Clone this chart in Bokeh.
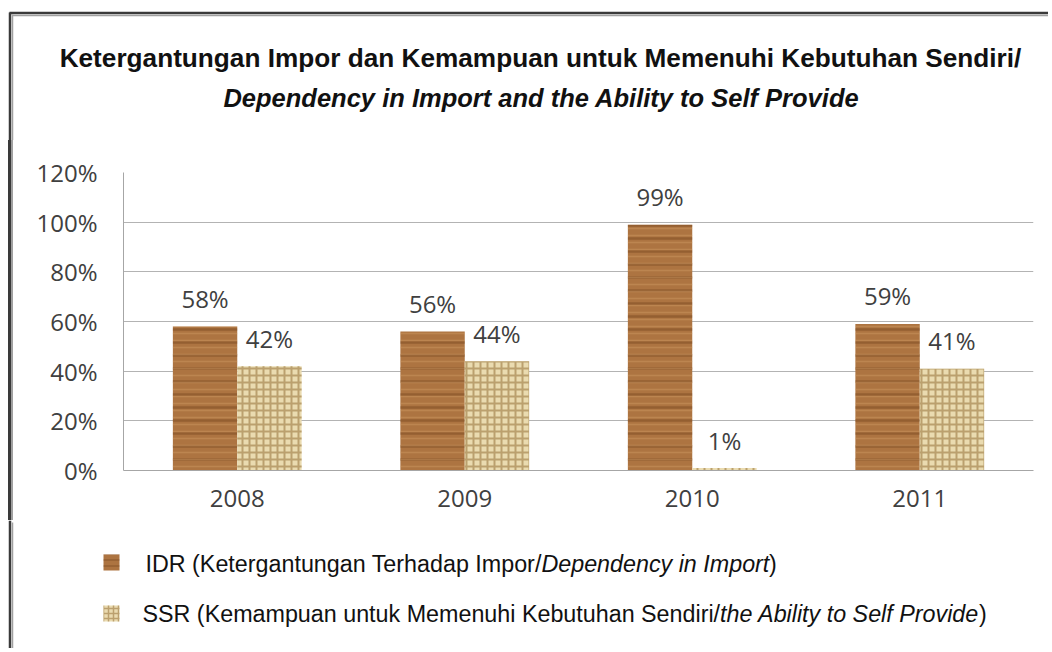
from bokeh.plotting import figure
from bokeh.layouts import column, row
from bokeh.models import (ColumnDataSource, FactorRange, Range1d, LabelSet,
                          PrintfTickFormatter, FixedTicker, Div)
from bokeh.core.properties import value
from bokeh.transform import dodge
from bokeh.embed import file_html
from bokeh.resources import INLINE

# ---- data ----
years = ["2008", "2009", "2010", "2011"]
idr = [58, 56, 99, 59]   # IDR (%)
ssr = [42, 44, 1, 41]    # SSR (%)
y_ticks = [0, 20, 40, 60, 80, 100, 120]

title1 = "Ketergantungan Impor dan Kemampuan untuk Memenuhi Kebutuhan Sendiri/"
title2 = "Dependency in Import and the Ability to Self Provide"
leg1 = ["IDR (Ketergantungan Terhadap Impor/", "Dependency in Import", ")"]
leg2 = ["SSR (Kemampuan untuk Memenuhi Kebutuhan Sendiri/", "the Ability to Self Provide", ")"]

W = 1048
WOOD = "#ad7441"
WOOD_GRAIN = "#6e3f18"
BURLAP = "#eadbb0"
BURLAP_WEAVE = "#a68853"
TXT_FONT = value("Liberation Sans")
NUM_FONT = "Open Sans"
BORDER_DARK = "#3a3a3a"
BORDER_LIGHT = "#a0a0a0"


def blank(w, h, y0, y1):
    """figure whose frame fills the canvas; data units == page pixels"""
    f = figure(width=w, height=h, x_range=Range1d(0, w), y_range=Range1d(y1, y0),
               output_backend="svg", toolbar_location=None,
               x_axis_location=None, y_axis_location=None,
               min_border=0, min_border_left=0, min_border_right=0,
               min_border_top=0, min_border_bottom=0)
    f.xgrid.visible = False
    f.ygrid.visible = False
    f.outline_line_color = None
    f.background_fill_color = "white"
    f.border_fill_color = "white"
    return f


def left_border(f, y0, y1):
    f.segment(x0=[9.5], y0=[y0], x1=[9.5], y1=[y1], line_color=BORDER_DARK, line_width=2.5)
    f.segment(x0=[12], y0=[y0 + 2], x1=[12], y1=[y1], line_color=BORDER_LIGHT, line_width=1.5)


# ---------------- title block (page y 0..140) ----------------
t = blank(W, 140, 0, 140)
t.segment(x0=[9], y0=[12.5], x1=[W], y1=[12.5], line_color=BORDER_DARK, line_width=2.5)
t.segment(x0=[12], y0=[15], x1=[W], y1=[15], line_color=BORDER_LIGHT, line_width=1.5)
left_border(t, 12, 140)
t.text(x=[540], y=[57], text=[title1], text_align="center", text_baseline="middle",
       text_font=TXT_FONT, text_font_size=value("26.2px"), text_font_style="bold",
       text_color="#111111")
t.text(x=[541], y=[97], text=[title2], text_align="center", text_baseline="middle",
       text_font=TXT_FONT, text_font_size=value("25.5px"), text_font_style="bold italic",
       text_color="#111111")

# ---------------- main chart (page y 140..520) ----------------
strip = Div(text="", width=14, height=380, margin=0,
            styles={"background": "linear-gradient(to right, #ffffff 8px, #3a3a3a 8px, "
                                  "#3a3a3a 11px, #ffffff 11px, #ffffff 11.5px, #a0a0a0 11.5px, "
                                  "#a0a0a0 13px, #ffffff 13px)"})

src = ColumnDataSource(dict(
    year=years, idr=idr, ssr=ssr,
    idr_lbl=[f"{v}%" for v in idr], ssr_lbl=[f"{v}%" for v in ssr]))

p = figure(x_range=FactorRange(*years), y_range=Range1d(0, 120),
           width=W - 14, height=380, output_backend="svg", toolbar_location=None,
           min_border_left=109, min_border_right=15, min_border_top=32,
           min_border_bottom=50)
p.outline_line_color = None
p.background_fill_color = "white"
p.border_fill_color = "white"

bw = 0.283
xi = dodge("year", -bw / 2, range=p.x_range)
xs = dodge("year", bw / 2, range=p.x_range)
p.vbar(x=xi, top="idr", width=bw, source=src, fill_color=WOOD, line_color=None,
       hatch_pattern="horizontal_line", hatch_color=WOOD_GRAIN, hatch_scale=13,
       hatch_weight=2.5, hatch_alpha=0.4)
p.vbar(x=xi, top="idr", width=bw, source=src, fill_alpha=0, line_color=None,
       hatch_pattern="horizontal_line", hatch_color="#d8a36c", hatch_scale=7,
       hatch_weight=1.5, hatch_alpha=0.35)
p.vbar(x=xs, top="ssr", width=bw, source=src, fill_color=BURLAP, line_color=None,
       hatch_pattern="cross", hatch_color=BURLAP_WEAVE, hatch_scale=7,
       hatch_weight=2, hatch_alpha=0.7)

for field, txt, xx in (("idr", "idr_lbl", xi), ("ssr", "ssr_lbl", xs)):
    p.add_layout(LabelSet(x=xx, y=field, text=txt, source=src, y_offset=28,
                          text_align="center", text_baseline="middle",
                          text_font=value(NUM_FONT), text_font_size=value("24px"),
                          text_color="#404040"))

p.yaxis.ticker = FixedTicker(ticks=y_ticks)
p.yaxis.formatter = PrintfTickFormatter(format="%d%%")
p.xgrid.visible = False
p.ygrid.grid_line_color = "#b3b3b3"
p.ygrid.grid_line_width = 1
for ax in (p.xaxis, p.yaxis):
    ax.axis_line_color = "#a6a6a6"
    ax.major_tick_line_color = None
    ax.minor_tick_line_color = None
    ax.major_tick_in = 0
    ax.major_tick_out = 0
    ax.major_label_text_font = NUM_FONT
    ax.major_label_text_font_size = "24px"
    ax.major_label_text_color = "#404040"
p.yaxis.major_label_standoff = 26
p.xaxis.major_label_standoff = 19

# ---------------- legend block (page y 520..648) ----------------
lg = blank(W, 128, 520, 648)
left_border(lg, 520, 648)
lg.rect(x=[111], y=[562], width=16, height=16, fill_color=WOOD, line_color=None,
        hatch_pattern="horizontal_line", hatch_color=WOOD_GRAIN, hatch_scale=6,
        hatch_weight=1.5, hatch_alpha=0.4)
lg.rect(x=[111], y=[613], width=16, height=16, fill_color=BURLAP, line_color=None,
        hatch_pattern="cross", hatch_color=BURLAP_WEAVE, hatch_scale=5,
        hatch_weight=1.5, hatch_alpha=0.7)
for parts, y, xs_ in ((leg1, 563, (145, 540.9, 768.6)),
                      (leg2, 613, (142, 719.6, 978.6))):
    for txt, x, style in zip(parts, xs_, ("normal", "italic", "normal")):
        lg.text(x=[x], y=[y], text=[txt], text_align="left", text_baseline="middle",
                text_font=TXT_FONT, text_font_size=value("23.3px"), text_font_style=style,
                text_color="#111111")

layout = column(t, row(strip, p), lg)
open("out.html", "w").write(file_html(layout, INLINE))
